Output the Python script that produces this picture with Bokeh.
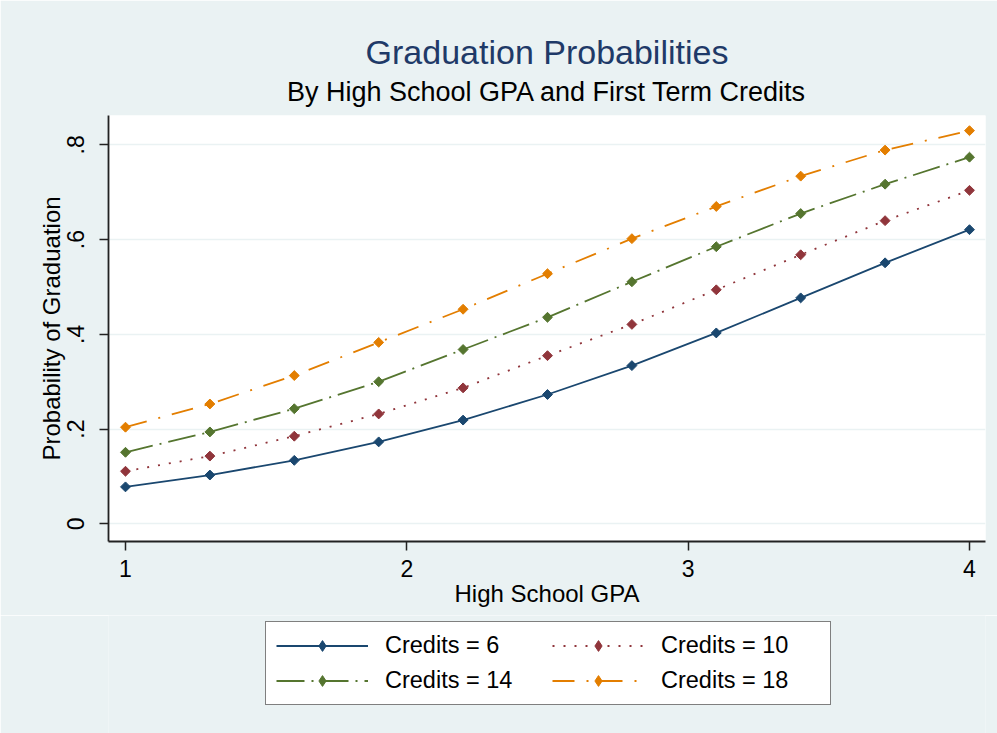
import math
from bokeh.plotting import figure
from bokeh.layouts import column
from bokeh.models import Legend, LegendItem, FixedTicker, Range1d, Title
from bokeh.embed import file_html
from bokeh.resources import INLINE

# ---- data ----
gpa = [1.0, 1.3, 1.6, 1.9, 2.2, 2.5, 2.8, 3.1, 3.4, 3.7, 4.0]
credits_6 = [0.078, 0.103, 0.134, 0.173, 0.219, 0.273, 0.334, 0.403, 0.477, 0.551, 0.621]
credits_10 = [0.111, 0.143, 0.185, 0.232, 0.287, 0.355, 0.421, 0.494, 0.568, 0.640, 0.704]
credits_14 = [0.151, 0.194, 0.243, 0.300, 0.368, 0.436, 0.511, 0.585, 0.655, 0.717, 0.774]
credits_18 = [0.204, 0.253, 0.313, 0.383, 0.453, 0.528, 0.602, 0.670, 0.734, 0.789, 0.830]
series_labels = ["Credits = 6", "Credits = 10", "Credits = 14", "Credits = 18"]
x_ticks = [1, 2, 3, 4]
y_ticks = [0, 0.2, 0.4, 0.6, 0.8]
y_tick_labels = ["0", ".2", ".4", ".6", ".8"]

FONT = "Liberation Sans"
BG = "#EAF2F3"
colors = ["#1A476F", "#90353B", "#55752F", "#E37E00"]
dashes = ["solid", "2 9", "28 7 2 7", "22 12 2 12"]
all_series = [credits_6, credits_10, credits_14, credits_18]

# ---------------- main chart ----------------
p = figure(width=997, height=615, output_backend="svg", toolbar_location=None,
           x_range=Range1d(0.9396, 4.0569), y_range=Range1d(-0.0373, 0.862),
           min_border_left=108, min_border_right=12, min_border_top=115,
           min_border_bottom=74)
p.title.visible = False
p.background_fill_color = "white"
p.border_fill_color = BG
p.outline_line_color = None

p.xaxis.ticker = FixedTicker(ticks=x_ticks)
p.yaxis.ticker = FixedTicker(ticks=y_ticks)
p.yaxis.major_label_overrides = {t: l for t, l in zip(y_ticks, y_tick_labels)}
p.yaxis.major_label_orientation = "parallel"
p.xaxis.axis_label = "High School GPA"
p.yaxis.axis_label = "Probability of Graduation"
for ax in (p.xaxis, p.yaxis):
    ax.axis_line_color = "#222222"
    ax.axis_line_width = 1.8
    ax.major_tick_line_color = "#222222"
    ax.major_tick_line_width = 1.5
    ax.major_tick_in = 0
    ax.major_tick_out = 9
    ax.minor_tick_line_color = None
    ax.major_label_text_font = FONT
    ax.major_label_text_font_size = "23px"
    ax.major_label_text_color = "black"
    ax.axis_label_text_font = FONT
    ax.axis_label_text_font_size = "24px"
    ax.axis_label_text_font_style = "normal"
    ax.axis_label_text_color = "black"
p.xaxis.major_label_standoff = 9
p.xaxis.axis_label_standoff = 0
p.yaxis.major_label_standoff = 15
p.yaxis.axis_label_standoff = 0

p.xgrid.visible = False
p.ygrid.ticker = FixedTicker(ticks=y_ticks)
p.ygrid.grid_line_color = BG
p.ygrid.grid_line_width = 1.5

for ys, c, d in zip(all_series, colors, dashes):
    p.line(gpa, ys, line_color=c, line_width=1.8, line_dash=d)
    p.scatter(gpa, ys, marker="square", angle=math.pi / 4, size=7,
              fill_color=c, line_color=c)

# subtitle first (closest to the frame), then main title
p.add_layout(Title(text="By High School GPA and First Term Credits",
                   align="center", vertical_align="top", standoff=13,
                   text_font=FONT, text_font_size="27px",
                   text_font_style="normal", text_color="black"), "above")
p.add_layout(Title(text="Graduation Probabilities", align="center",
                   vertical_align="bottom", standoff=0, text_font=FONT,
                   text_font_size="34px", text_font_style="normal",
                   text_color="#1F3A68"), "above")

# ---------------- legend strip ----------------
leg = figure(width=997, height=118, output_backend="svg", toolbar_location=None,
             x_range=Range1d(0, 1), y_range=Range1d(0, 1),
             x_axis_location=None, y_axis_location=None,
             min_border_left=0, min_border_right=0, min_border_top=0,
             min_border_bottom=0)
leg.title.visible = False
leg.background_fill_color = BG
leg.border_fill_color = BG
leg.outline_line_color = None
leg.xgrid.visible = False
leg.ygrid.visible = False

lrends = []
for ys, c, d in zip(all_series, colors, dashes):
    ln = leg.line(gpa, ys, line_color=c, line_width=1.8, line_dash=d,
                  visible=False)
    sc = leg.scatter(gpa, ys, marker="diamond", fill_color=c, line_color=c,
                     visible=False)
    lrends.append([ln, sc])

legend = Legend(items=[LegendItem(label=lab, renderers=r)
                       for lab, r in zip(series_labels, lrends)],
                orientation="horizontal", ncols=2, location=(157, 28),
                glyph_width=92, glyph_height=27, label_height=27,
                label_width=159, label_standoff=17, spacing=8, padding=10,
                margin=0, border_line_color="black", border_line_width=1.5,
                background_fill_color="white", background_fill_alpha=1.0,
                label_text_font=FONT, label_text_font_size="23.5px",
                label_text_color="black", inactive_fill_alpha=0.0)
leg.add_layout(legend)

layout = column(p, leg, spacing=0)
open("out.html", "w").write(file_html(layout, INLINE))
